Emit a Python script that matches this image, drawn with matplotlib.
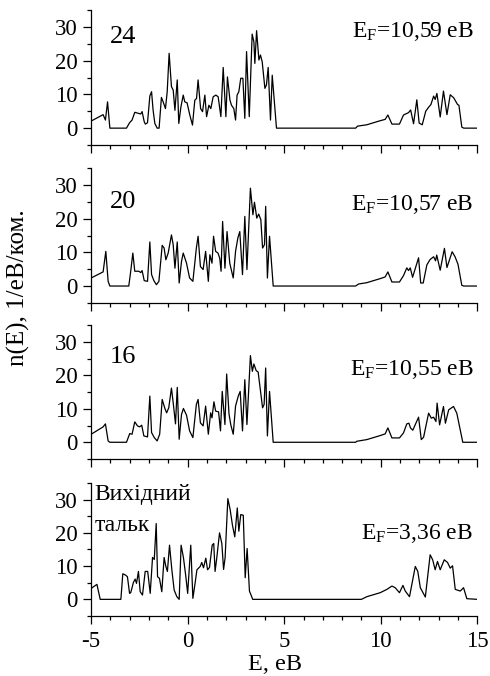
import numpy as np
import matplotlib
matplotlib.use('Agg')
import matplotlib.pyplot as plt
from matplotlib.ticker import MultipleLocator

plt.rcParams['font.family'] = ['Liberation Serif', 'DejaVu Serif']
plt.rcParams['mathtext.default'] = 'regular'
plt.rcParams['axes.unicode_minus'] = False

# density of states, panel "24"
e24 = [-5.0, -4.38, -4.26, -4.15, -4.03, -3.17, -3.01, -2.88, -2.74, -2.56, -2.43, -2.36,
       -2.25, -2.19, -2.08, -1.96, -1.87, -1.79, -1.70, -1.58, -1.48, -1.36, -1.27, -1.15,
       -1.06, -0.96, -0.84, -0.75, -0.66, -0.54, -0.46, -0.35, -0.23, -0.15, -0.03, 0.11,
       0.25, 0.37, 0.46, 0.54, 0.67, 0.77, 0.89, 0.98, 1.10, 1.20, 1.32, 1.46, 1.58, 1.72,
       1.84, 1.98, 2.06, 2.19, 2.27, 2.39, 2.48, 2.56, 2.65, 2.75, 2.86, 2.96, 3.05, 3.19,
       3.34, 3.43, 3.48, 3.57, 3.69, 3.77, 3.86, 4.00, 4.08, 4.17, 4.29, 4.38, 4.60,
       8.7, 8.8, 9.28, 9.97, 10.23, 10.37, 10.58, 10.97, 11.18, 11.44, 11.55, 11.7, 11.87,
       11.99, 12.15, 12.33, 12.48, 12.6, 12.74, 12.82, 12.91, 13.08, 13.25, 13.43, 13.6,
       13.78, 13.98, 14.05, 14.2, 14.3, 15.0]
n24 = [2.1, 4.0, 2.4, 7.8, 0, 0, 1.6, 2.4, 4.7, 4.4, 4.2, 4.9,
       1.9, 1.2, 1.6, 9.5, 10.8, 5.3, 1.4, 0, 0, 9.1, 7.8, 5.8,
       10.8, 22.2, 12.3, 11.3, 5.3, 14.3, 1.4, 6.3, 9.8, 7.8, 7.5, 3.9,
       0.9, 8.3, 8.8, 14.3, 5.8, 4.9, 9.8, 3.4, 6.8, 5.8, 9.3, 9.8, 9.3, 3.4,
       18.0, 3.4, 15.2, 8.3, 6.8, 5.8, 2.4, 9.8, 10.8, 14.8, 14.8, 2.9, 22.7, 3.4,
       27.9, 25.6, 19.2, 28.9, 20.2, 21.7, 19.7, 11.8, 12.8, 18.0, 2.4, 15.7, 0,
       0, 0.6, 1.0, 2.2, 2.6, 3.9, 1.2, 1.2, 3.9, 4.6, 5.4, 1.3, 8.4,
       1.5, 1.0, 5.0, 6.2, 7.0, 9.5, 8.5, 10.3, 3.3, 11.0, 4.0, 9.9,
       9.0, 7.0, 6.8, 0.3, 0, 0]

# panel "20"
e20 = [-5.0, -4.38, -4.24, -4.12, -4.03, -3.05, -2.95, -2.84, -2.74, -2.53, -2.43, -2.36,
       -2.25, -2.08, -1.96, -1.87, -1.75, -1.62, -1.49, -1.32, -1.22, -1.13, -1.01, -0.84,
       -0.75, -0.66, -0.54, -0.44, -0.32, -0.23, -0.06, 0.10, 0.27, 0.45, 0.54, 0.66, 0.80,
       0.93, 1.07, 1.15, 1.26, 1.34, 1.45, 1.57, 1.66, 1.73, 1.81, 1.93, 2.04, 2.18, 2.24,
       2.36, 2.48, 2.60, 2.70, 2.84, 2.96, 3.07, 3.25, 3.38, 3.46, 3.58, 3.68, 3.79, 3.88,
       3.98, 4.04, 4.13, 4.24, 4.43,
       8.7, 8.85, 9.28, 9.97, 10.23, 10.37, 10.58, 10.97, 11.18, 11.35, 11.44, 11.53, 11.65,
       11.96, 12.07, 12.2, 12.39, 12.56, 12.74, 12.84, 12.9, 13.08, 13.3, 13.43, 13.7,
       13.85, 14.0, 14.2, 14.3, 15.0]
n20 = [2.4, 4.2, 10.3, 1.4, 0, 0, 4.4, 9.8, 4.4, 4.4, 4.0, 4.6,
       1.6, 1.4, 13.1, 3.4, 1.6, 0.4, 1.4, 12.1, 11.3, 7.8, 9.8, 15.2,
       12.3, 5.3, 13.1, 0.9, 7.3, 9.8, 6.8, 2.4, 1.4, 11.3, 14.8, 5.8, 4.9,
       10.3, 1.4, 9.3, 6.8, 14.8, 10.3, 9.8, 8.3, 4.4, 19.2, 5.3, 16.2, 6.8, 5.3,
       2.4, 10.3, 14.3, 16.2, 3.4, 20.7, 4.9, 29.1, 21.2, 24.9, 20.2, 21.4, 19.7, 11.3,
       12.3, 23.7, 2.4, 14.8, 0,
       0, 0.6, 1.0, 2.2, 2.7, 4.2, 1.2, 1.2, 3.1, 5.4, 4.6, 5.4, 2.6,
       8.4, 0.9, 0.9, 6.3, 7.9, 8.7, 7.5, 9.2, 4.7, 11.2, 5.5, 10.2,
       8.7, 6.5, 0.2, 0, 0]

# panel "16"
e16 = [-5.0, -4.38, -4.26, -4.12, -4.03, -3.17, -3.0, -2.88, -2.74, -2.6, -2.49, -2.38,
       -2.27, -2.08, -1.96, -1.87, -1.73, -1.58, -1.45, -1.32, -1.18, -1.09, -0.98, -0.84,
       -0.75, -0.63, -0.54, -0.44, -0.32, -0.22, -0.06, 0.10, 0.27, 0.45, 0.54, 0.66, 0.80,
       0.93, 1.07, 1.19, 1.26, 1.36, 1.45, 1.60, 1.70, 1.79, 1.93, 2.02, 2.14, 2.23, 2.36,
       2.48, 2.62, 2.72, 2.84, 2.96, 3.07, 3.25, 3.35, 3.43, 3.55, 3.65, 3.88, 3.96, 4.04,
       4.13, 4.24, 4.43,
       8.7, 8.76, 9.28, 9.97, 10.23, 10.37, 10.58, 10.97, 11.18, 11.35, 11.46, 11.54, 11.66,
       11.96, 12.1, 12.22, 12.48, 12.62, 12.74, 12.86, 12.92, 13.05, 13.25, 13.35, 13.52,
       13.77, 13.94, 14.25, 15.0]
n16 = [2.4, 4.6, 5.5, 0.4, 0, 0, 2.6, 2.4, 6.1, 4.9, 4.6, 5.1,
       1.9, 1.6, 13.8, 2.9, 1.4, 0.4, 2.4, 12.8, 10.1, 8.8, 10.3, 16.2,
       11.8, 5.5, 16.4, 0.9, 8.3, 10.1, 8.1, 3.4, 1.4, 11.3, 12.8, 5.8, 4.9,
       10.8, 2.4, 8.8, 7.3, 12.1, 9.3, 9.1, 3.4, 15.2, 5.3, 20.4, 8.5, 5.3, 2.4,
       10.8, 13.8, 15.2, 3.4, 18.7, 5.3, 25.9, 21.2, 23.4, 21.4, 21.0, 10.3, 11.3, 22.2,
       1.9, 15.2, 0,
       0, 0.3, 0.8, 2.0, 2.5, 4.3, 1.3, 1.3, 2.8, 5.5, 5.7, 4.3, 3.6,
       7.5, 0.8, 1.5, 8.7, 7.2, 7.5, 6.2, 11.7, 5.2, 10.7, 5.7, 9.7,
       10.7, 8.7, 0, 0]

# panel "original talc"
e0 = [-5.0, -4.7, -4.53, -3.46, -3.36, -3.22, -3.12, -3.01, -2.95, -2.81, -2.72, -2.65,
      -2.55, -2.46, -2.34, -2.2, -2.07, -1.94, -1.82, -1.73, -1.63, -1.56, -1.46, -1.34,
      -1.22, -1.13, -1.05, -0.94, -0.82, -0.7, -0.56, -0.44, -0.34, -0.22, -0.1, 0.0,
      0.16, 0.27, 0.39, 0.48, 0.65, 0.73, 0.82, 0.94, 1.03, 1.13, 1.27, 1.35, 1.42, 1.51,
      1.65, 1.77, 1.86, 1.94, 2.08, 2.2, 2.32, 2.44, 2.57, 2.65, 2.75, 2.88, 2.98, 3.08,
      3.2, 3.37,
      9.0, 9.28, 9.97, 10.32, 10.58, 10.75, 10.97, 11.15, 11.27, 11.49, 11.79, 11.92,
      12.05, 12.31, 12.56, 12.69, 12.82, 12.94, 13.08, 13.29, 13.46, 13.6, 13.72, 13.86,
      14.12, 14.29, 14.46, 15.0]
n0 = [3.3, 4.5, 0, 0, 7.7, 7.3, 6.8, 1.8, 2.0, 5.1, 6.1, 4.8,
      8.4, 2.3, 1.3, 8.4, 8.4, 1.8, 12.6, 12.0, 22.8, 6.8, 6.3, 2.3,
      12.6, 9.9, 8.4, 16.3, 8.9, 2.8, 0.8, 0, 16.3, 12.6, 7.1, 1.8,
      16.3, 0.3, 5.1, 8.9, 9.9, 11.1, 9.5, 12.4, 8.9, 9.6, 16.3, 16.8, 8.4, 12.6,
      20.0, 16.8, 9.0, 12.6, 30.3, 27.0, 22.3, 18.8, 27.5, 20.5, 25.5, 25.3, 6.5, 15.3,
      2.5, 0,
      0, 0.8, 2.0, 3.0, 4.0, 3.5, 2.0, 4.2, 2.5, 0.8, 9.9, 8.4,
      3.5, 0.7, 13.4, 11.9, 8.9, 11.4, 8.9, 11.9, 11.1, 9.4, 10.1, 3.0,
      2.5, 3.5, 0.2, 0]

panels = [
    (e24, n24, '24', r'$E_F$=10,59 еВ'),
    (e20, n20, '20', r'$E_F$=10,57 еВ'),
    (e16, n16, '16', r'$E_F$=10,55 еВ'),
    (e0, n0, None, r'$E_F$=3,36 еВ'),
]

fig = plt.figure(figsize=(4.9, 6.76), dpi=100)

# axes boxes (left, bottom, width, height) in figure fractions
boxes = [
    (0.186, 0.7855, 0.788, 0.1995),
    (0.186, 0.552, 0.788, 0.199),
    (0.186, 0.321, 0.788, 0.198),
    (0.186, 0.0888, 0.788, 0.1967),
]
num_y = [25.4, 23.1, 23.7]
ef_y = [27.1, 22.5, 20.2, 18.2]

for i, (e, n, lab, ef) in enumerate(panels):
    ax = fig.add_axes(boxes[i])
    ax.plot(e, n, color='black', lw=0.9)
    ax.set_xlim(-5, 15)
    ax.set_ylim(-5, 35)
    ax.spines['top'].set_visible(False)
    ax.spines['right'].set_visible(False)
    for s in ['left', 'bottom']:
        ax.spines[s].set_linewidth(0.9)
    ax.xaxis.set_major_locator(MultipleLocator(5))
    ax.xaxis.set_minor_locator(MultipleLocator(1))
    ax.set_yticks([0, 10, 20, 30])
    ax.yaxis.set_minor_locator(MultipleLocator(5))
    ax.tick_params(which='major', direction='out', length=6, width=0.9, labelsize=16.5, pad=4)
    ax.tick_params(axis='x', which='major', pad=5)
    ax.tick_params(which='minor', direction='out', length=3.2, width=0.9)
    if i < 3:
        ax.tick_params(labelbottom=False)
        ax.text(-4.05, num_y[i], lab, fontsize=19, va='baseline', ha='left')
    else:
        ax.text(-4.83, 29.8, 'Вихідний', fontsize=17, va='baseline', ha='left')
        ax.text(-4.83, 20.6, 'тальк', fontsize=17, va='baseline', ha='left')
        ax.set_xlabel('E, еВ', fontsize=17.5)
        ax.xaxis.set_label_coords(0.477, -0.285)
    ax.text(14.8, ef_y[i], ef, fontsize=17, va='baseline', ha='right')

fig.text(0.038, 0.574, 'n(E), 1/еВ/ком.', rotation=90, fontsize=18, ha='center', va='center')

fig.savefig('out.png', dpi=100)
